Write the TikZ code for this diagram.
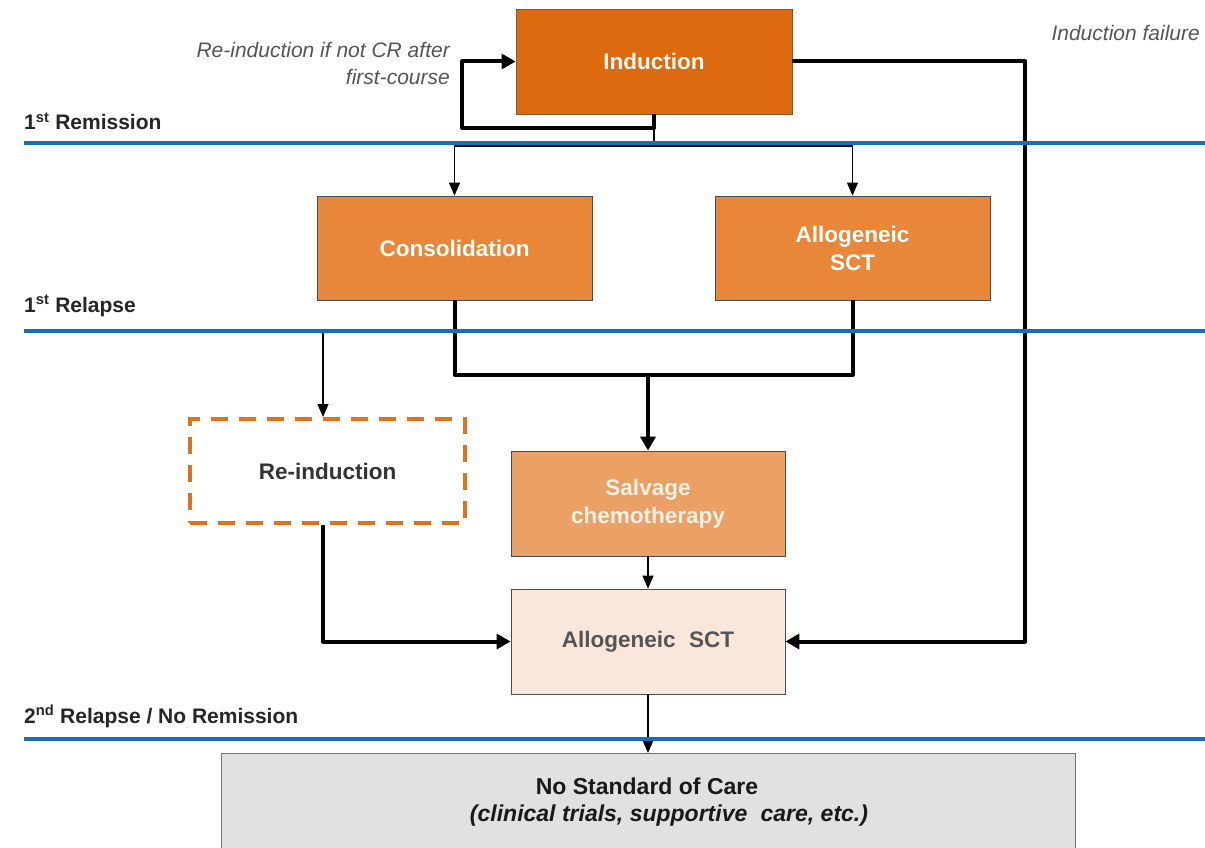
\documentclass[tikz,border=0pt]{standalone}
\usepackage{fontspec}
\setmainfont{Liberation Sans}
\usetikzlibrary{arrows.meta}
\definecolor{indc}{HTML}{DE6A10}
\definecolor{midc}{HTML}{E8873A}
\definecolor{salc}{HTML}{EBA066}
\definecolor{allc}{HTML}{F9E7DC}
\definecolor{nosc}{HTML}{E1E1E1}
\definecolor{bluec}{HTML}{1B6DB5}
\definecolor{dashc}{HTML}{DA7420}
\definecolor{greyt}{HTML}{555555}
\tikzset{
  boxbase/.style={rectangle, minimum width=275pt, minimum height=105pt, draw=black!70, line width=0.8pt, align=center, font=\fontsize{22.5}{28}\selectfont\bfseries},
  thickline/.style={line width=4pt, black, line join=round},
  thickarrow/.style={thickline, -{Triangle[length=14pt,width=15pt]}},
  thinline/.style={line width=1.1pt, black},
  thinarrow/.style={thinline, -{Triangle[length=13pt,width=11pt]}},
  stagelbl/.style={anchor=base west, inner sep=0pt, font=\fontsize{21}{24}\selectfont\bfseries, text=black!85},
  notelbl/.style={inner sep=0pt, font=\fontsize{21}{27}\selectfont\itshape, text=greyt},
  stageline/.style={line width=4.5pt, bluec},
  nosoclbl/.style={inner sep=0pt, font=\fontsize{23}{28}\selectfont\bfseries, text=black!90}
}
\begin{document}
\begin{tikzpicture}[x=1pt,y=-1pt]
\useasboundingbox (0,0) rectangle (1205,848);
% boxes
\node[boxbase, fill=indc, draw=brown!70!black, minimum width=276pt, text=white!95!orange] (induction) at (654,61.5) {Induction};
\node[boxbase, fill=midc, minimum height=104pt, text=white] (consol) at (454.5,248) {Consolidation};
\node[boxbase, fill=midc, minimum height=104pt, text=white] (allotop) at (852.5,248) {Allogeneic\\SCT};
\node[boxbase, draw=dashc, line width=4pt, dash pattern=on 17pt off 11pt, minimum height=104pt, text=black!80] (reind) at (327.5,471) {Re-induction};
\node[boxbase, fill=salc, minimum width=274pt, text=white!90!orange] (salv) at (648,503.5) {Salvage\\chemotherapy};
\node[boxbase, fill=allc, minimum width=274pt, text=greyt] (allobot) at (648,641.5) {Allogeneic\hspace{0.6em}SCT};
\node[rectangle, fill=nosc, draw=black!55, line width=0.8pt, minimum width=854pt, minimum height=120pt, anchor=north] (nosoc) at (648,753) {};
\node[nosoclbl] (nosoctitle) at (647,786) {No Standard of Care};
\node[nosoclbl, font=\fontsize{23}{28}\selectfont\bfseries\itshape] (nosocsub) at (669,816) {(clinical trials, supportive\hspace{0.3em} care, etc.)};
% split point under induction
\coordinate (split) at (654,146);
\coordinate (lpb) at (462,128);
\coordinate (fail) at (1025,0);
\coordinate (merge) at (648,375);
\coordinate (rtap) at (323,331);
% connectors
\draw[thinline] (induction.south) -- (split);
\draw[thinarrow] (split) -| (consol.north);
\draw[thinarrow] (split) -| (allotop.north);
\draw[thickarrow] (induction.south) |- (lpb) |- (induction.west);
\draw[thickarrow] (induction.east) -- (induction.east -| fail) -- (fail |- allobot.east) -- (allobot.east);
\draw[thickline] (consol.south) -- (consol.south |- merge) -- (allotop.south |- merge) -- (allotop.south);
\draw[thickarrow] (merge) -- (salv.north);
\draw[thinarrow] (rtap) -- (rtap |- reind.north);
\draw[thickarrow] (reind.south -| rtap) |- (allobot.west);
\draw[thinarrow] (salv.south) -- (allobot.north);
\draw[thinarrow] (allobot.south) -- (nosoc.north);
% stage lines
\draw[stageline] (24,143) -- (1205,143);
\draw[stageline] (24,331) -- (1205,331);
\draw[stageline] (24,739) -- (1205,739);
% labels
\node[stagelbl] (lrem) at (24,130) {1\textsuperscript{st} Remission};
\node[stagelbl] (lrel) at (24,312) {1\textsuperscript{st} Relapse};
\node[stagelbl] (lrel2) at (24,723) {2\textsuperscript{nd} Relapse / No Remission};
\node[notelbl, anchor=east, align=right] (reindnote) at (450,63) {Re-induction if not CR after\\first-course};
\node[notelbl, anchor=east] (failnote) at (1200,33) {Induction failure};
\end{tikzpicture}
\end{document}
